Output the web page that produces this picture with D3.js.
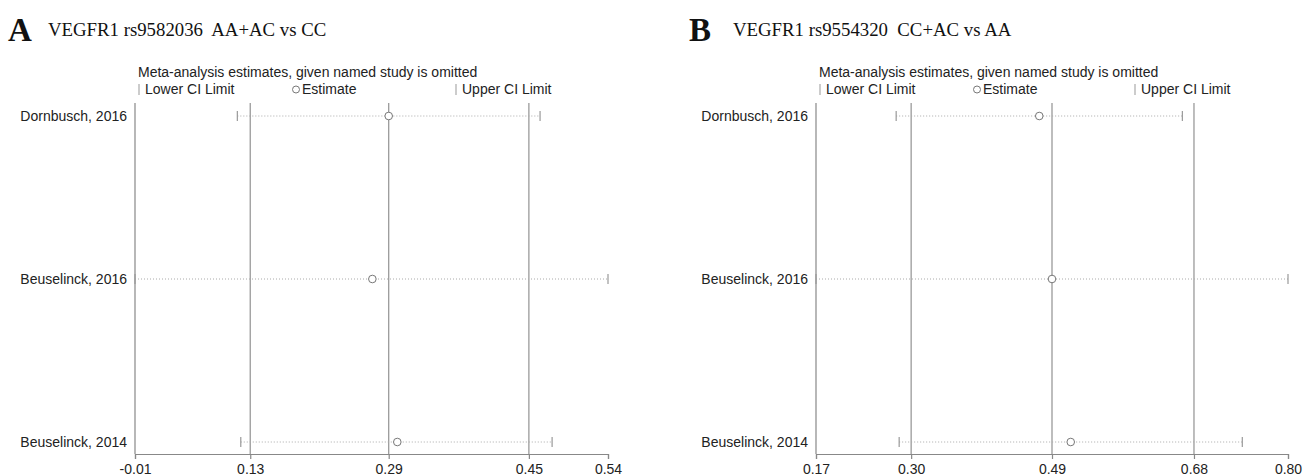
<!DOCTYPE html>
<html><head><meta charset="utf-8">
<script src="https://cdn.jsdelivr.net/npm/d3@7"></script>
<style>body{margin:0;background:#fff}svg{display:block}</style>
</head><body>
<script>
const studies = ["Dornbusch, 2016", "Beuselinck, 2016", "Beuselinck, 2014"];

// Panel A: VEGFR1 rs9582036 AA+AC vs CC
const lowerA = [0.109, -0.01, 0.113];
const estA   = [0.285, 0.266, 0.295];
const upperA = [0.461, 0.54, 0.475];
const domainA = [-0.01, 0.54];
const tickValsA = [-0.01, 0.124, 0.285, 0.448, 0.54];
const tickLabelsA = ["-0.01", "0.13", "0.29", "0.45", "0.54"];
const refLinesA = [0.124, 0.285, 0.448];

// Panel B: VEGFR1 rs9554320 CC+AC vs AA
const lowerB = [0.277, 0.17, 0.281];
const estB   = [0.468, 0.485, 0.510];
const upperB = [0.659, 0.80, 0.739];
const domainB = [0.17, 0.80];
const tickValsB = [0.17, 0.297, 0.485, 0.6745, 0.80];
const tickLabelsB = ["0.17", "0.30", "0.49", "0.68", "0.80"];
const refLinesB = [0.297, 0.485, 0.6745];

const svg = d3.select("body").append("svg").attr("width", 1307).attr("height", 476);
const sans = "'Liberation Sans', Arial, sans-serif";
const serif = "'Liberation Serif', 'Times New Roman', serif";

function panel(cfg) {
  const g = svg.append("g");
  const x = d3.scaleLinear().domain(cfg.domain).range([cfg.x0, cfg.x1]);
  const y = d3.scalePoint().domain(studies).range([116, 442]);
  const top = 103, axisY = 454;

  // header
  g.append("text").attr("x", cfg.hx).attr("y", 41).attr("font-family", serif)
    .attr("font-weight", "bold").attr("font-size", 33).attr("fill", "#111").text(cfg.letter);
  g.append("text").attr("x", cfg.hx + cfg.tOff).attr("y", 36).attr("font-family", serif)
    .attr("font-size", 18.8).attr("fill", "#111").attr("xml:space", "preserve").style("white-space", "pre").text(cfg.title);

  // legend
  const lx = cfg.x0 + 3;
  g.append("text").attr("x", lx).attr("y", 77).attr("font-family", sans).attr("font-size", 14)
    .attr("fill", "#222").text("Meta-analysis estimates, given named study is omitted");
  g.append("line").attr("x1", lx + 1).attr("x2", lx + 1).attr("y1", 84).attr("y2", 95).attr("stroke", "#999");
  g.append("text").attr("x", lx + 7).attr("y", 94).attr("font-family", sans).attr("font-size", 14)
    .attr("fill", "#222").text("Lower CI Limit");
  g.append("circle").attr("cx", lx + 158).attr("cy", 89.5).attr("r", 3.5).attr("fill", "none").attr("stroke", "#777");
  g.append("text").attr("x", lx + 164).attr("y", 94).attr("font-family", sans).attr("font-size", 14)
    .attr("fill", "#222").text("Estimate");
  g.append("line").attr("x1", lx + cfg.upOff).attr("x2", lx + cfg.upOff).attr("y1", 84).attr("y2", 95).attr("stroke", "#999");
  g.append("text").attr("x", lx + cfg.upOff + 6).attr("y", 94).attr("font-family", sans).attr("font-size", 14)
    .attr("fill", "#222").text("Upper CI Limit");

  // reference vertical lines
  g.selectAll(".ref").data(cfg.refs).join("line")
    .attr("x1", d => x(d)).attr("x2", d => x(d)).attr("y1", top).attr("y2", axisY)
    .attr("stroke", "#9a9a9a").attr("stroke-width", 1.3);

  // y axis line
  g.append("line").attr("x1", cfg.x0).attr("x2", cfg.x0).attr("y1", top).attr("y2", axisY)
    .attr("stroke", "#888").attr("stroke-width", 1.2);

  // x axis
  const ax = d3.axisBottom(x).tickValues(cfg.ticks).tickSize(5)
    .tickFormat((d, i) => cfg.labels[i]);
  const axG = g.append("g").attr("transform", `translate(0,${axisY})`).call(ax);
  axG.select(".domain").attr("stroke", "#888").attr("stroke-width", 1.2);
  axG.selectAll(".tick line").attr("stroke", "#888").attr("stroke-width", 1.2);
  axG.selectAll(".tick text").attr("font-family", sans).attr("font-size", 14).attr("fill", "#222").attr("dy", "0.85em");

  // study labels
  g.selectAll(".lab").data(studies).join("text")
    .attr("x", cfg.x0 - 8).attr("y", d => y(d)).attr("dy", "0.35em").attr("text-anchor", "end")
    .attr("font-family", sans).attr("font-size", 14).attr("fill", "#222").text(d => d);

  // CI dotted lines
  g.selectAll(".ci").data(studies).join("line")
    .attr("x1", (d, i) => x(cfg.lo[i])).attr("x2", (d, i) => x(cfg.hi[i]))
    .attr("y1", d => y(d)).attr("y2", d => y(d))
    .attr("stroke", "#aaa").attr("stroke-width", 1).attr("stroke-dasharray", "1,2");
  // caps
  g.selectAll(".capL").data(studies).join("line")
    .attr("x1", (d, i) => x(cfg.lo[i])).attr("x2", (d, i) => x(cfg.lo[i]))
    .attr("y1", d => y(d) - 5).attr("y2", d => y(d) + 5).attr("stroke", "#999").attr("stroke-width", 1.2);
  g.selectAll(".capU").data(studies).join("line")
    .attr("x1", (d, i) => x(cfg.hi[i])).attr("x2", (d, i) => x(cfg.hi[i]))
    .attr("y1", d => y(d) - 5).attr("y2", d => y(d) + 5).attr("stroke", "#999").attr("stroke-width", 1.2);
  // estimates
  g.selectAll(".est").data(studies).join("circle")
    .attr("cx", (d, i) => x(cfg.est[i])).attr("cy", d => y(d)).attr("r", 3.8)
    .attr("fill", "#fff").attr("stroke", "#777").attr("stroke-width", 1);
}

panel({letter: "A", title: "VEGFR1 rs9582036  AA+AC vs CC", hx: 8, tOff: 40, x0: 135, x1: 608, upOff: 318,
  domain: domainA, ticks: tickValsA, labels: tickLabelsA, refs: refLinesA, lo: lowerA, est: estA, hi: upperA});
panel({letter: "B", title: "VEGFR1 rs9554320  CC+AC vs AA", hx: 689, tOff: 44, x0: 816, x1: 1288, upOff: 316,
  domain: domainB, ticks: tickValsB, labels: tickLabelsB, refs: refLinesB, lo: lowerB, est: estB, hi: upperB});
</script>
</body></html>
